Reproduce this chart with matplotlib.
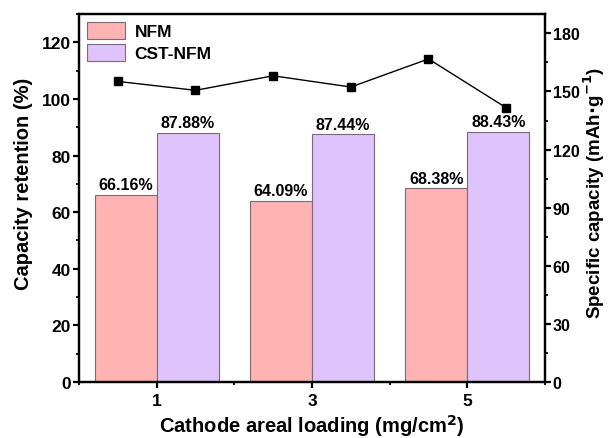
import matplotlib
matplotlib.use("Agg")
import matplotlib.pyplot as plt
from matplotlib.ticker import MultipleLocator
import numpy as np

plt.rcParams['font.family'] = ['Liberation Sans', 'DejaVu Sans']
plt.rcParams['font.weight'] = 'bold'

loadings = [1, 3, 5]
nfm_retention = [66.16, 64.09, 68.38]
cst_retention = [87.88, 87.44, 88.43]
cap_x = [0.5, 1.5, 2.5, 3.5, 4.5, 5.5]
specific_capacity = [155.2, 150.6, 158.1, 152.3, 166.8, 141.6]

nfm_color = '#FFB3B3'
cst_color = '#DFC3FD'
edge = '#7a6a78'

fig = plt.figure(figsize=(6.09, 4.39), dpi=100)
ax = fig.add_axes([79 / 609, 1 - 383 / 439, (545 - 79) / 609, (383 - 15) / 439])

x = np.array(loadings, dtype=float)
w = 0.8
b1 = ax.bar(x - w / 2, nfm_retention, width=w, color=nfm_color, edgecolor=edge,
            linewidth=0.8, label='NFM')
b2 = ax.bar(x + w / 2, cst_retention, width=w, color=cst_color, edgecolor=edge,
            linewidth=0.8, label='CST-NFM')
for bars, vals in ((b1, nfm_retention), (b2, cst_retention)):
    for r, v in zip(bars, vals):
        ax.text(r.get_x() + r.get_width() / 2, v + 1.0, f'{v:.2f}%',
                ha='center', va='bottom', fontsize=11.5, fontweight='bold')

ax.set_xlim(0, 6)
ax.set_ylim(0, 130)
ax.set_xticks(loadings)
ax.xaxis.set_minor_locator(MultipleLocator(1))
ax.yaxis.set_major_locator(MultipleLocator(20))
ax.yaxis.set_minor_locator(MultipleLocator(10))
ax.set_xlabel('Cathode areal loading (mg/cm$^\\mathbf{2}$)', fontsize=14.5,
              fontweight='bold', labelpad=3)
ax.set_ylabel('Capacity retention (%)', fontsize=14.5, fontweight='bold')
ax.yaxis.set_label_coords(-0.099, 0.54)

ax2 = ax.twinx()
ax2.plot(cap_x, specific_capacity, color='black', marker='s', markersize=6,
         linewidth=1.0)
ax2.set_ylim(0, 190)
ax2.yaxis.set_major_locator(MultipleLocator(30))
ax2.yaxis.set_minor_locator(MultipleLocator(15))
ax2.set_ylabel('Specific capacity (mAh$\\mathbf{\\cdot}$g$^{\\mathbf{-1}}$)',
               fontsize=13.5, fontweight='bold')
ax2.yaxis.set_label_coords(1.078, 0.516)

for a in (ax, ax2):
    for s in a.spines.values():
        s.set_linewidth(1.6)
    a.tick_params(which='major', direction='out', length=4, width=1.6,
                  labelsize=12.5, pad=2)
    a.tick_params(which='minor', direction='out', length=2.5, width=1.3)
ax.tick_params(axis='x', which='major', pad=4)
ax2.tick_params(axis='y', which='major', labelsize=11.5, pad=1.5)
for a in (ax, ax2):
    for lbl in a.get_xticklabels() + a.get_yticklabels():
        lbl.set_fontweight('bold')

ax.legend(loc='upper left', frameon=False, handlelength=2.2,
          handleheight=1.15, handletextpad=0.55, borderaxespad=0.05,
          labelspacing=0.26, prop={'weight': 'bold', 'size': 12.5})

fig.savefig('out.png', dpi=100)
